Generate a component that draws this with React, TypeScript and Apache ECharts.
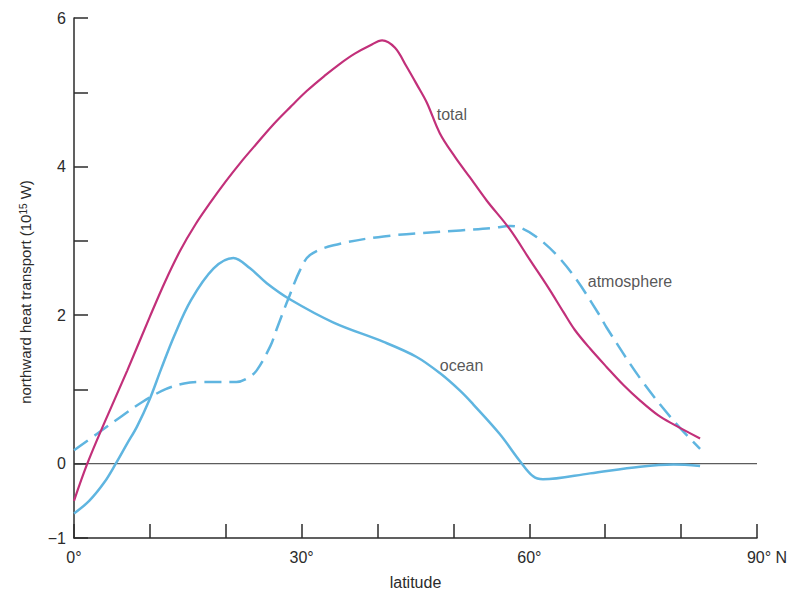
import React, { useEffect, useRef } from "react";
import * as echarts from "echarts";

// latitude (°N) and northward heat transport (10^15 W)
const totalLat = [0, 1.75, 4, 7, 10, 12, 14, 16, 18, 20, 22, 24, 26.3, 28.5, 30.7, 33, 35, 37, 39, 40.6, 42.3, 43.8, 45.2, 46.5, 48.2, 50.2, 52.2, 54.4, 57.4, 60.1, 62.5, 64.5, 66, 68, 70.2, 72.4, 74.6, 77, 79, 82.5];
const totalVal = [-0.5, 0, 0.55, 1.25, 1.98, 2.45, 2.87, 3.22, 3.52, 3.8, 4.06, 4.3, 4.57, 4.8, 5.02, 5.22, 5.38, 5.52, 5.63, 5.7, 5.6, 5.35, 5.1, 4.86, 4.45, 4.13, 3.85, 3.54, 3.16, 2.74, 2.37, 2.04, 1.8, 1.55, 1.3, 1.06, 0.85, 0.65, 0.53, 0.34];

const oceanLat = [0, 2, 4, 5.5, 7, 8.3, 9.9, 11.5, 13.2, 15.4, 18.4, 21, 23.2, 25.4, 28.5, 34.2, 40.8, 45.1, 48.2, 50.9, 52.6, 56.1, 58.8, 60.5, 61.8, 68, 74.6, 79, 82.5];
const oceanVal = [-0.67, -0.5, -0.25, 0, 0.27, 0.5, 0.85, 1.28, 1.72, 2.2, 2.63, 2.77, 2.63, 2.43, 2.21, 1.9, 1.64, 1.44, 1.22, 0.98, 0.8, 0.4, 0.03, -0.17, -0.21, -0.13, -0.04, -0.01, -0.03];

const atmosLat = [0, 3, 6, 9, 12, 14.5, 16.6, 18.4, 21.4, 23, 24.1, 25.9, 26.7, 27.7, 28.2, 29.8, 31.1, 34.2, 40.8, 50.9, 55, 57.5, 59, 61, 63.6, 66.2, 69.3, 70.2, 74.6, 79, 82.5];
const atmosVal = [0.18, 0.4, 0.62, 0.83, 1.0, 1.08, 1.1, 1.1, 1.1, 1.16, 1.26, 1.59, 1.81, 2.08, 2.21, 2.61, 2.81, 2.94, 3.06, 3.14, 3.17, 3.2, 3.17, 3.05, 2.81, 2.48, 1.99, 1.83, 1.15, 0.58, 0.2];

const zeroLat = [0, 90];
const zeroVal = [0, 0];

// curve labels: text and anchor (left edge, vertical centre)
const labelNames = ["total", "atmosphere", "ocean"];
const labelLat = [47.8, 67.7, 48.2];
const labelVal = [4.7, 2.45, 1.32];

const yTickLabels = [6, 4, 2, 0, -1];
const xTickLabels: Record<number, string> = { 0: "0°", 30: "30°", 60: "60°", 90: "{p|}90° N" };

const FONT = '"Liberation Sans", Arial, Helvetica, sans-serif';
const MAGENTA = "#c2307a";
const BLUE = "#5fb5e0";
const INK = "#2b2b2b";

const pairs = (xs: number[], ys: number[]) => xs.map((x, i) => [x, ys[i]]);

export default function App() {
  const ref = useRef<HTMLDivElement>(null);
  useEffect(() => {
    if (!ref.current) return;
    const chart = echarts.init(ref.current, undefined, { renderer: "svg" });
    chart.setOption({
      animation: false,
      backgroundColor: "#ffffff",
      grid: { left: 74, right: 35, top: 18, bottom: 52, containLabel: false },
      xAxis: {
        type: "value",
        min: 0,
        max: 90,
        interval: 10,
        name: "latitude",
        nameLocation: "middle",
        nameGap: 36,
        nameTextStyle: { fontFamily: FONT, fontSize: 16, color: INK },
        axisLine: { show: true, onZero: false, lineStyle: { color: INK, width: 1.5 } },
        axisTick: { show: true, inside: true, length: 14, lineStyle: { color: INK, width: 1.5 } },
        splitLine: { show: false },
        axisLabel: {
          show: true,
          margin: 11,
          showMinLabel: true,
          showMaxLabel: true,
          fontFamily: FONT,
          fontSize: 16,
          color: INK,
          formatter: (v: number) => xTickLabels[v] ?? "",
          rich: { p: { width: 20 } },
        },
      },
      yAxis: {
        type: "value",
        min: -1,
        max: 6,
        interval: 1,
        name: "northward heat transport (10{sup|15} W)",
        nameLocation: "middle",
        nameGap: 41,
        nameTextStyle: {
          fontFamily: FONT,
          fontSize: 15,
          color: INK,
          padding: [0, 28, 0, 0],
          rich: { sup: { fontFamily: FONT, fontSize: 10, color: INK, verticalAlign: "top", padding: [0, 0, 5, 0] } },
        },
        axisLine: { show: true, onZero: false, lineStyle: { color: INK, width: 1.5 } },
        axisTick: { show: true, inside: true, length: 14, lineStyle: { color: INK, width: 1.5 } },
        splitLine: { show: false },
        axisLabel: {
          show: true,
          margin: 8,
          showMinLabel: true,
          showMaxLabel: true,
          fontFamily: FONT,
          fontSize: 16,
          color: INK,
          formatter: (v: number) => (yTickLabels.includes(v) ? (v < 0 ? "\u2212" + Math.abs(v) : String(v)) : ""),
        },
      },
      series: [
        {
          name: "zero",
          type: "line",
          data: pairs(zeroLat, zeroVal),
          symbol: "none",
          z: 1,
          lineStyle: { color: "#333", width: 1 },
          silent: true,
        },
        {
          name: "atmosphere",
          type: "line",
          data: pairs(atmosLat, atmosVal),
          symbol: "none",
          smooth: 0.35,
          z: 3,
          lineStyle: { color: BLUE, width: 2.5, type: [17, 8] },
        },
        {
          name: "ocean",
          type: "line",
          data: pairs(oceanLat, oceanVal),
          symbol: "none",
          smooth: 0.35,
          z: 3,
          lineStyle: { color: BLUE, width: 2.5 },
        },
        {
          name: "total",
          type: "line",
          data: pairs(totalLat, totalVal),
          symbol: "none",
          smooth: 0.35,
          z: 4,
          lineStyle: { color: MAGENTA, width: 2.2 },
        },
        {
          name: "labels",
          type: "scatter",
          data: labelNames.map((n, i) => [labelLat[i], labelVal[i], n]),
          symbolSize: 0,
          z: 5,
          label: {
            show: true,
            position: "right",
            distance: 0,
            fontFamily: FONT,
            fontSize: 16,
            color: INK,
            formatter: (p: any) => p.data[2],
          },
          silent: true,
        },
      ],
    });
    return () => chart.dispose();
  }, []);
  return <div ref={ref} style={{ position: "fixed", left: 0, top: 0, width: 792, height: 595 }} />;
}
